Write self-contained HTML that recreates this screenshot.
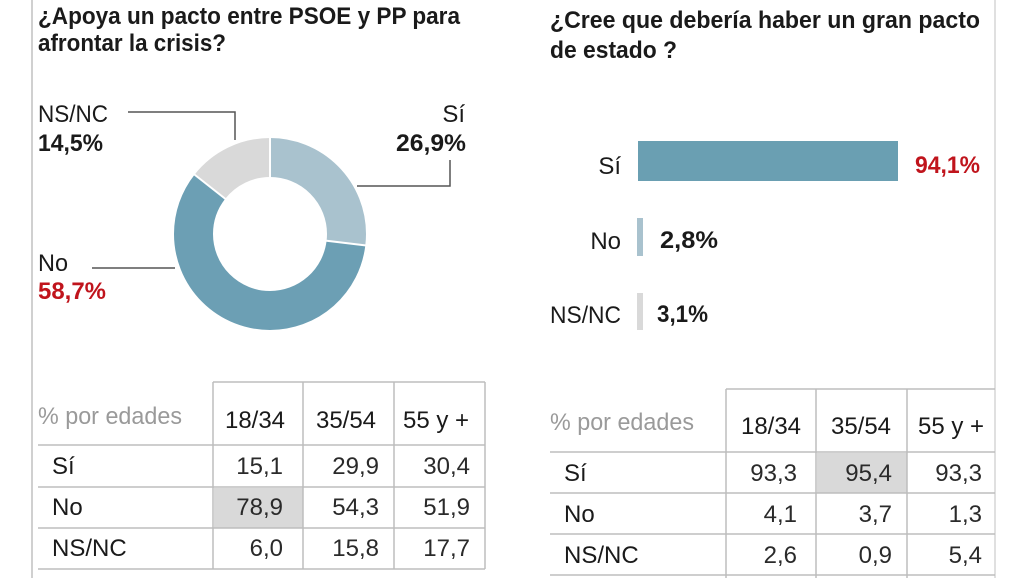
<!DOCTYPE html>
<html><head><meta charset="utf-8"><style>
html,body{margin:0;padding:0;background:#fff;}
svg{display:block;font-family:"Liberation Sans",sans-serif;}
.t{font-weight:bold;font-size:24px;fill:#1a1a1a;}
.l{font-size:24px;fill:#1a1a1a;}
.b{font-size:24px;font-weight:bold;fill:#1a1a1a;}
.r{font-size:24px;font-weight:bold;fill:#c0141c;}
.g{font-size:24px;fill:#9a9a9a;}
.c{font-size:24px;fill:#2a2a2a;}
</style></head><body>
<svg width="1028" height="578" viewBox="0 0 1028 578" xmlns="http://www.w3.org/2000/svg">
<rect width="1028" height="578" fill="#fff"/>
<line x1="32" y1="0" x2="32" y2="578" stroke="#d0d0d0" stroke-width="2"/>
<line x1="995" y1="0" x2="995" y2="578" stroke="#e0e0e0" stroke-width="2"/>

<text class="t" x="38" y="24" textLength="422" lengthAdjust="spacingAndGlyphs">¿Apoya un pacto entre PSOE y PP para</text>
<text class="t" x="38" y="51" textLength="188" lengthAdjust="spacingAndGlyphs">afrontar la crisis?</text>

<g transform="translate(270,234) rotate(-90)">
<circle r="76.5" fill="none" stroke="#a9c2ce" stroke-width="39" stroke-dasharray="129.3 351.4" stroke-dashoffset="0"/>
<circle r="76.5" fill="none" stroke="#6c9fb4" stroke-width="39" stroke-dasharray="282.1 198.6" stroke-dashoffset="-129.3"/>
<circle r="76.5" fill="none" stroke="#d9d9d9" stroke-width="39" stroke-dasharray="69.7 411" stroke-dashoffset="-411.4"/>
<g stroke="#fff" stroke-width="2">
<line x1="56" y1="0" x2="97" y2="0"/>
<line x1="56" y1="0" x2="97" y2="0" transform="rotate(96.8)"/>
<line x1="56" y1="0" x2="97" y2="0" transform="rotate(308.2)"/>
</g>
</g>
<polyline points="128,112 235,112 235,140" fill="none" stroke="#555" stroke-width="1.5"/>
<polyline points="357,186 450,186 450,160" fill="none" stroke="#555" stroke-width="1.5"/>
<line x1="92" y1="268" x2="175" y2="268" stroke="#555" stroke-width="1.5"/>
<text class="l" x="38" y="122" textLength="70" lengthAdjust="spacingAndGlyphs">NS/NC</text>
<text class="b" x="38" y="151" textLength="65" lengthAdjust="spacingAndGlyphs">14,5%</text>
<text class="l" x="465" y="122" text-anchor="end">Sí</text>
<text class="b" x="396" y="151" textLength="70" lengthAdjust="spacingAndGlyphs">26,9%</text>
<text class="l" x="38" y="271" textLength="30" lengthAdjust="spacingAndGlyphs">No</text>
<text class="r" x="38" y="299" textLength="68" lengthAdjust="spacingAndGlyphs">58,7%</text>

<rect x="214" y="488" width="89" height="40" fill="#d9d9d9"/>
<g stroke="#bdbdbd" stroke-width="1.5" fill="none">
<line x1="213" y1="382" x2="485" y2="382"/>
<line x1="38" y1="445" x2="485" y2="445"/>
<line x1="38" y1="487" x2="485" y2="487"/>
<line x1="38" y1="528" x2="485" y2="528"/>
<line x1="38" y1="569" x2="485" y2="569"/>
<line x1="213" y1="382" x2="213" y2="569"/>
<line x1="303" y1="382" x2="303" y2="569"/>
<line x1="394" y1="382" x2="394" y2="569"/>
<line x1="485" y1="382" x2="485" y2="569"/>
</g>
<text class="g" x="38" y="424" textLength="144" lengthAdjust="spacingAndGlyphs">% por edades</text>
<g class="l" text-anchor="middle">
<text x="255" y="428">18/34</text><text x="346" y="428">35/54</text><text x="436" y="428">55 y +</text>
</g>
<text class="l" x="52" y="474">Sí</text>
<text class="l" x="52" y="515">No</text>
<text class="l" x="52" y="556">NS/NC</text>
<g class="c" text-anchor="end">
<text x="283" y="474">15,1</text><text x="379" y="474">29,9</text><text x="470" y="474">30,4</text>
<text x="283" y="515">78,9</text><text x="379" y="515">54,3</text><text x="470" y="515">51,9</text>
<text x="283" y="556">6,0</text><text x="379" y="556">15,8</text><text x="470" y="556">17,7</text>
</g>

<text class="t" x="550" y="28" textLength="430" lengthAdjust="spacingAndGlyphs">¿Cree que debería haber un gran pacto</text>
<text class="t" x="550" y="58" textLength="127" lengthAdjust="spacingAndGlyphs">de estado ?</text>

<rect x="638" y="141" width="260" height="40" fill="#6a9fb2"/>
<rect x="637" y="218" width="6" height="38" fill="#a9c2ce"/>
<rect x="637" y="293" width="6" height="37" fill="#d9d9d9"/>
<text class="l" x="621" y="174" text-anchor="end">Sí</text>
<text class="r" x="915" y="173" textLength="65" lengthAdjust="spacingAndGlyphs">94,1%</text>
<text class="l" x="621" y="249" text-anchor="end">No</text>
<text class="b" x="660" y="248" textLength="58" lengthAdjust="spacingAndGlyphs">2,8%</text>
<text class="l" x="621" y="323" text-anchor="end" textLength="71" lengthAdjust="spacingAndGlyphs">NS/NC</text>
<text class="b" x="657" y="322" textLength="51" lengthAdjust="spacingAndGlyphs">3,1%</text>

<rect x="817" y="453" width="90" height="40" fill="#d9d9d9"/>
<g stroke="#bdbdbd" stroke-width="1.5" fill="none">
<line x1="726" y1="389" x2="995" y2="389"/>
<line x1="550" y1="452" x2="995" y2="452"/>
<line x1="550" y1="493" x2="995" y2="493"/>
<line x1="550" y1="534" x2="995" y2="534"/>
<line x1="550" y1="575" x2="995" y2="575"/>
<line x1="726" y1="389" x2="726" y2="578"/>
<line x1="816" y1="389" x2="816" y2="578"/>
<line x1="907" y1="389" x2="907" y2="578"/>
</g>
<text class="g" x="550" y="430" textLength="144" lengthAdjust="spacingAndGlyphs">% por edades</text>
<g class="l" text-anchor="middle">
<text x="771" y="434">18/34</text><text x="861" y="434">35/54</text><text x="951" y="434">55 y +</text>
</g>
<text class="l" x="564" y="481">Sí</text>
<text class="l" x="564" y="522">No</text>
<text class="l" x="564" y="563">NS/NC</text>
<g class="c" text-anchor="end">
<text x="797" y="481">93,3</text><text x="892" y="481">95,4</text><text x="982" y="481">93,3</text>
<text x="797" y="522">4,1</text><text x="892" y="522">3,7</text><text x="982" y="522">1,3</text>
<text x="797" y="563">2,6</text><text x="892" y="563">0,9</text><text x="982" y="563">5,4</text>
</g>
</svg>
</body></html>
